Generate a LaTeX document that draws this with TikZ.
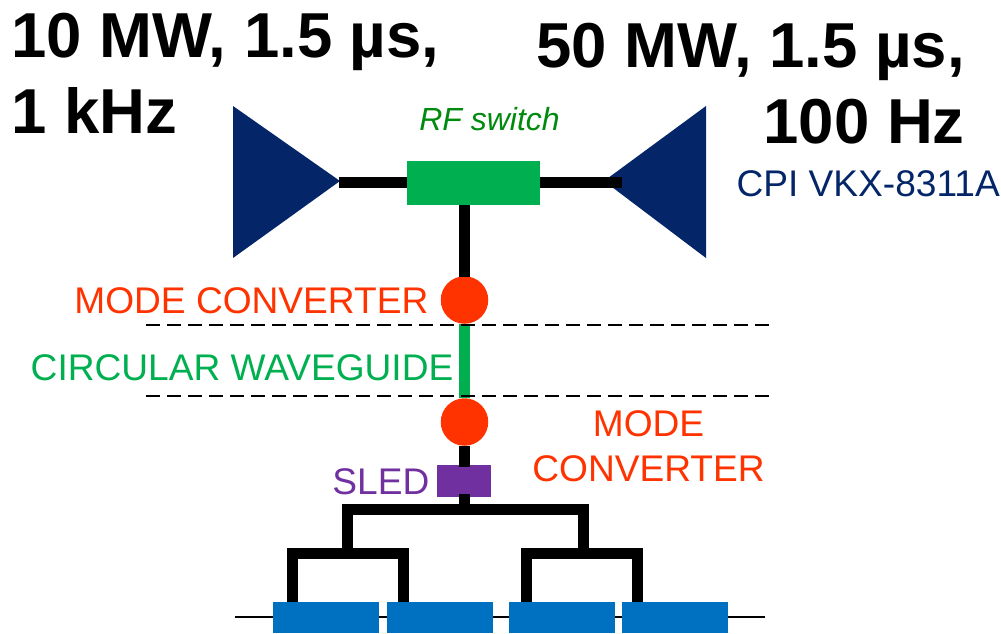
\documentclass[tikz,border=0pt]{standalone}
\usepackage{fontspec}
\setsansfont{Liberation Sans}
\definecolor{navy}{HTML}{042669}
\definecolor{wgreen}{HTML}{00B050}
\definecolor{rfgreen}{HTML}{008A0E}
\definecolor{convred}{HTML}{FF3300}
\definecolor{sledpurple}{HTML}{7030A0}
\definecolor{acblue}{HTML}{0070C0}

\begin{document}
\begin{tikzpicture}[
    x=1pt, y=-1pt, font=\sffamily,
    klystron/.style={fill=navy},
    guide/.style={black,line width=11pt},
    cut/.style={black,line width=1.6pt,dash pattern=on 14pt off 7pt},
    converter/.style={
      circle,
      fill=convred,
      inner sep=0pt,
      minimum size=47.5pt
    },
    block/.style={
      rectangle,
      inner sep=0pt
    },
    structure/.style={
      block,
      fill=acblue,
      minimum width=106pt,
      minimum height=31pt
    },
    power/.style={
      font=\sffamily\bfseries\fontsize{63.5}{76}\selectfont,
      align=left,
      inner sep=0pt
    },
    label/.style={
      font=\sffamily\fontsize{37.1}{45}\selectfont,
      inner sep=0pt
    }
  ]
  \useasboundingbox (0,0) rectangle (1001,633);

  \begin{scope}
    \draw[black,line width=1.4pt] (235,617) -- (765,617) ;

    \fill[klystron] (233,106) -- (340,181) -- (233,258) -- cycle;
    \fill[klystron] (706,106) -- (604,181) -- (706,258) -- cycle;
    \coordinate (klyLeft) at (339,182);
    \coordinate (klyRight) at (622,182);

    \node[block,fill=wgreen,minimum width=133pt,minimum height=44pt] (switch) at (473.5,183) {};
    \node[converter] (convTop) at (464.5,300) {};
    \node[converter] (convBottom) at (464.5,422) {};
    \node[block,fill=sledpurple,minimum width=54pt,minimum height=32pt] (sled) at (464,481) {};

    \node[structure] (acOne) at (326,617.5) {};
    \node[structure] (acTwo) at (440,617.5) {};
    \node[structure] (acThree) at (562,617.5) {};
    \node[structure] (acFour) at (675,617.5) {};

    \coordinate (sledIn) at (464.5,467);
    \coordinate (sledOut) at (464.5,494);
    \coordinate (busMain) at (464.5,509.5);
    \coordinate (busLeft) at (347.5,553.5);
    \coordinate (busRight) at (583.5,553.5);

    \draw[guide] (klyLeft) -- (klyLeft -| switch.west);
    \draw[guide] (klyRight) -- (klyRight -| switch.east);
    \draw[guide] (switch.south -| convTop) -- ([yshift=-1pt]convTop.north);
    \draw[guide,wgreen] (convTop.south) -- (convBottom.north);
    \draw[guide] (convBottom.south) -- (sledIn);
    \draw[guide] (sledOut) -- (busMain);

    \draw[guide] (busLeft) -- (busLeft |- busMain) -- (busRight |- busMain) -- (busRight);
    \draw[guide] (acOne.north -| 292.5,0) -- (292.5,553.5) -- (403.5,553.5) -- (acTwo.north -| 403.5,0);
    \draw[guide] (acThree.north -| 526,0) -- (526,553.5) -- (637.5,553.5) -- (acFour.north -| 637.5,0);

    \draw[cut] (146,325) -- (772,325) ;
    \draw[cut] (146,396) -- (772,396) ;

    \node[power,anchor=base west] (powerLeft) at (11,133) {10 MW, 1.5 µs,\\1 kHz};
    \node[power,anchor=base east,align=right] (powerRight) at (965,143) {50 MW, 1.5 µs,\\100 Hz};

    \node[label,anchor=base,text=rfgreen,font=\sffamily\itshape\fontsize{32}{38}\selectfont] (switchText) at (489.5,130) {RF switch};
    \node[label,anchor=base east,text=navy] (tubeText) at (1000,196) {CPI VKX-8311A};
    \node[label,anchor=base east,text=convred] (convTopText) at (428.5,313) {MODE CONVERTER};
    \node[label,anchor=base east,text=wgreen] (guideText) at (453.5,380) {CIRCULAR WAVEGUIDE};
    \node[label,anchor=base,text=convred,align=center] (convBottomText) at (648.5,481) {MODE\\CONVERTER};
    \node[label,anchor=base east,text=sledpurple] (sledText) at (429.5,494) {SLED};
  \end{scope}
\end{tikzpicture}
\end{document}
